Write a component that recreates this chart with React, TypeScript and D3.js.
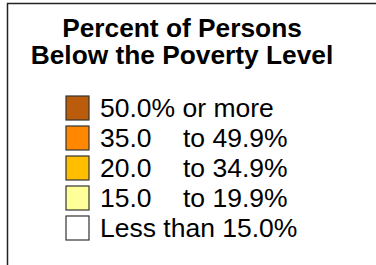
import React from "react";
import * as d3 from "d3";

const titleLines = ["Percent of Persons", "Below the Poverty Level"];
const labelsLeft = ["50.0% or more", "35.0", "20.0", "15.0", "Less than 15.0%"];
const labelsRight = ["", "to 49.9%", "to 34.9%", "to 19.9%", ""];
const colors = ["#BA5C0C", "#FF8800", "#FFBF00", "#FFFF99", "#FFFFFF"];

const W = 376;
const H = 265;

export default function App() {
  const idx = d3.range(labelsLeft.length);
  const y = d3.scaleBand<number>().domain(idx).range([93, 243]).paddingInner(0.2).paddingOuter(0.1);
  return (
    <svg width={W} height={H} style={{ position: "absolute", left: 0, top: 0, background: "#fff" }}>
      <rect x={0} y={0} width={W} height={H} fill="#fff" />
      <path d="M7.5,265 V3.5 H376" fill="none" stroke="#222" strokeWidth={1.5} />
      {titleLines.map((t, i) => (
        <text key={t} x={182} y={37 + i * 27} textAnchor="middle" fontFamily="Liberation Sans, Arial, sans-serif" fontWeight="bold" fontSize={26.3}>
          {t}
        </text>
      ))}
      {idx.map((i) => (
        <g key={i}>
          <rect x={66} y={y(i)} width={23} height={y.bandwidth()} fill={colors[i]} stroke="#333" strokeWidth={1.2} />
          <text x={100} y={(y(i) as number) + y.bandwidth() / 2 + 9} fontFamily="Liberation Sans, Arial, sans-serif" fontSize={26.5}>
            {labelsLeft[i]}
          </text>
          {labelsRight[i] && (
            <text x={183} y={(y(i) as number) + y.bandwidth() / 2 + 9} fontFamily="Liberation Sans, Arial, sans-serif" fontSize={26.5}>
              {labelsRight[i]}
            </text>
          )}
        </g>
      ))}
    </svg>
  );
}
